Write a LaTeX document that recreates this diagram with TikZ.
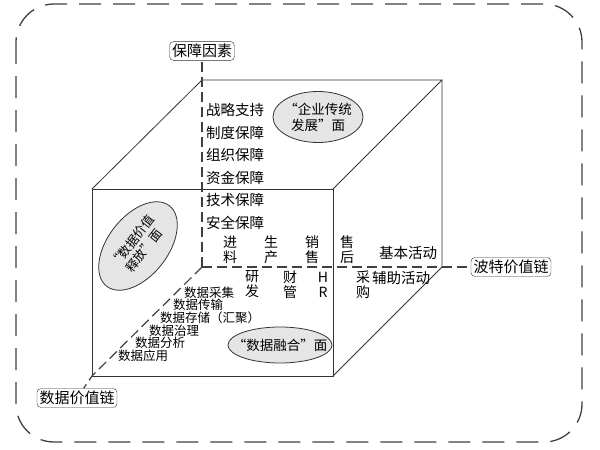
\documentclass[tikz,border=0pt]{standalone}
\usepackage{fontspec}
\setmainfont{Noto Sans CJK SC}
\usetikzlibrary{shapes.geometric}

\tikzset{
  frame/.style={black!75, line width=1.3pt, dash pattern=on 22pt off 12pt, rounded corners=38pt},
  edge/.style={black!80, line width=0.8pt},
  axis/.style={black!75, line width=1.2pt, dash pattern=on 10pt off 5pt},
  tag/.style={draw=black!80, fill=white, rounded corners=4pt, inner sep=2.5pt, font=\fontsize{15}{15}\selectfont},
  face/.style={ellipse, draw=black!80, fill=black!10, line width=0.8pt, inner sep=0pt},
  facetext/.style={align=center, inner sep=0pt, font=\fontsize{13.5}{16}\selectfont},
  item/.style={anchor=west, inner sep=0pt, font=\fontsize{14.5}{15}\selectfont},
  small/.style={anchor=west, inner sep=0pt, font=\fontsize{12.5}{13}\selectfont},
  pair/.style={align=center, inner sep=0pt, font=\fontsize{14}{15}\selectfont},
}

\begin{document}
\begin{tikzpicture}[x=1pt, y=-1pt]
  \useasboundingbox (0,0) rectangle (600,450);
  \draw [frame] (16,4) rectangle (582,442);

  % corners of the cube
  \coordinate (F1) at (92,189);
  \coordinate (F2) at (333,189);
  \coordinate (F3) at (333,376);
  \coordinate (F4) at (92,376);
  \coordinate (B1) at (202,80);
  \coordinate (B2) at (442,80);
  \coordinate (B3) at (442,267);
  \coordinate (O) at (202,267);
  \draw [edge] (F1) rectangle (F3);
  \draw [edge] (F1) -- (B1) -- (B2) -- (F2);
  \draw [edge] (B2) -- (B3) -- (F3);

  % the three chains
  \node [tag] (safe) at (202,51) {保障因素};
  \node [tag] (porter) at (511,267) {波特价值链};
  \node [tag] (datachain) at (77,398) {数据价值链};
  \draw [axis] (O) -- (safe);
  \draw [axis] (O) -- (porter);
  \draw [axis] (O) -- (F4) -- (datachain);

  \foreach \t [count=\i] in {战略支持, 制度保障, 组织保障, 资金保障, 技术保障, 安全保障}
    \node [item] (g\i) at (206, 110+22.6*\i-22.6) {\t};

  \foreach \x/\t [count=\i] in {230/进\\料, 271/生\\产, 312/销\\售, 347/售\\后}
    \node [pair] (main\i) at (\x,249.5) {\t};
  \node [item] (mainlabel) at (379,253) {基本活动};
  \foreach \x/\t [count=\i] in {252/研\\发, 290/财\\管, 323/H\\R, 363/采\\购}
    \node [pair] (aid\i) at (\x,284.5) {\t};
  \node [item] (aidlabel) at (372,278) {辅助活动};

  \foreach \x/\y/\t [count=\i] in {184/293/数据采集, 173/305/数据传输, 160/318/数据存储（汇聚）,
      149/331/数据治理, 135/343/数据分析, 118/356/数据应用}
    \node [small] (d\i) at (\x,\y) {\t};

  % the faces
  \node [face, minimum width=90pt, minimum height=51pt,
    label={[facetext]center:{“企业传统\\发展”面}}] (top) at (318,117) {};
  \node [face, rotate=52, minimum width=102pt, minimum height=60pt,
    label={[facetext, font=\fontsize{12.5}{15}\selectfont, rotate=52]center:{“数据价值\\释放”面}}] (front) at (138,246) {};
  \node [face, minimum width=104pt, minimum height=36pt,
    label={[facetext]center:{“数据融合”面}}] (fusion) at (280,345) {};
\end{tikzpicture}
\end{document}
